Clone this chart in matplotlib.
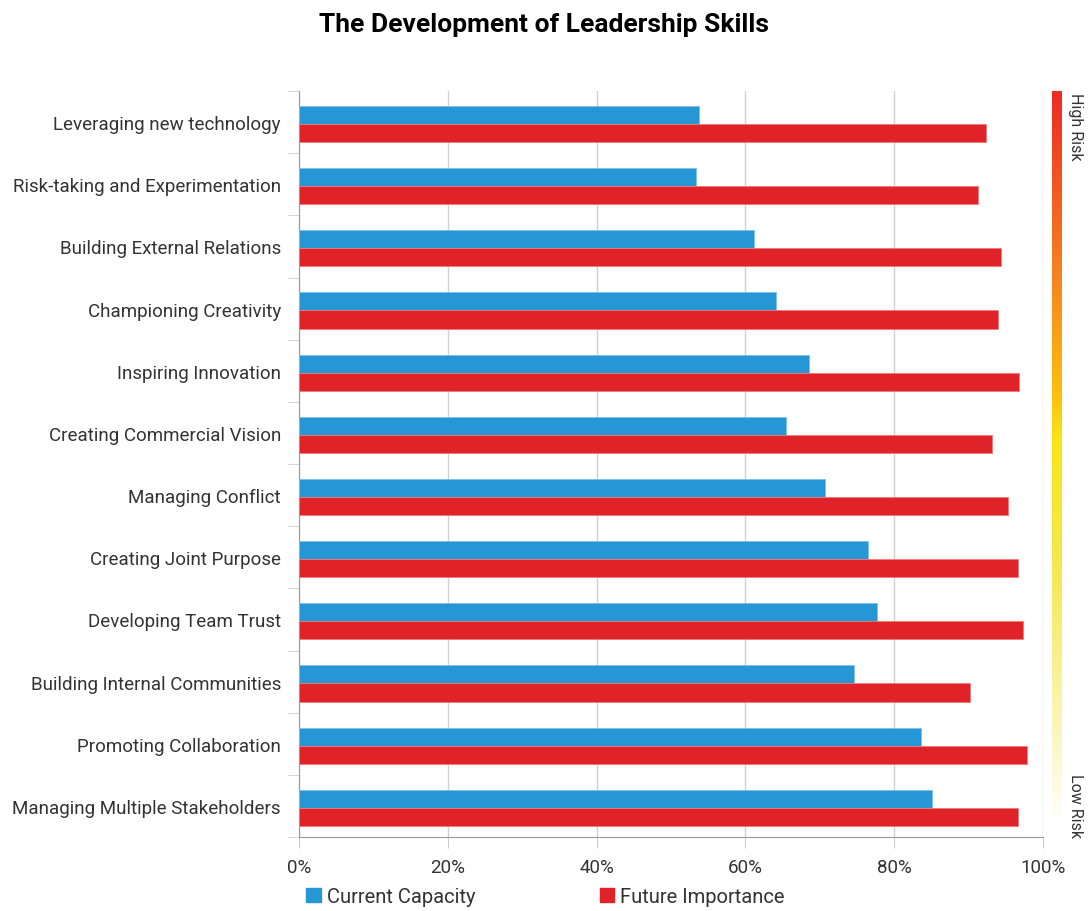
import numpy as np
import matplotlib
matplotlib.use("Agg")
from matplotlib import pyplot as plt
from matplotlib.colors import LinearSegmentedColormap
from matplotlib.patches import Patch

plt.rcParams['font.family'] = ['Roboto', 'DejaVu Sans']

skills = ['Leveraging new technology', 'Risk-taking and Experimentation',
          'Building External Relations', 'Championing Creativity',
          'Inspiring Innovation', 'Creating Commercial Vision',
          'Managing Conflict', 'Creating Joint Purpose',
          'Developing Team Trust', 'Building Internal Communities',
          'Promoting Collaboration', 'Managing Multiple Stakeholders']
current_capacity = [53.8, 53.4, 61.2, 64.1, 68.5, 65.5,
                    70.7, 76.5, 77.7, 74.6, 83.6, 85.1]
future_importance = [92.3, 91.3, 94.4, 94.0, 96.8, 93.1,
                     95.3, 96.6, 97.3, 90.2, 97.8, 96.6]
xticks = [0, 20, 40, 60, 80, 100]

blue = '#2796d4'
red = '#e02328'
grey = '#999999'
text_col = '#333333'

fig = plt.figure(figsize=(10.88, 9.12), dpi=100)
ax = fig.add_axes([0.2748, 0.0811, 0.9586 - 0.2748, 0.8180])

y = np.arange(len(skills))
h = 0.29
ax.barh(y - h / 2 + 0.03, current_capacity, height=h, color=blue,
        edgecolor='#7fc0e6', linewidth=0.6, zorder=3)
ax.barh(y + h / 2 + 0.03, future_importance, height=h, color=red,
        edgecolor='#ec7a7d', linewidth=0.6, zorder=3)

ax.set_xlim(0, 100)
ax.set_ylim(len(skills) - 0.5, -0.5)
ax.set_xticks(xticks)
ax.set_xticklabels(['{}%'.format(v) for v in xticks], fontsize=13.5, color=text_col)
ax.set_yticks(y)
ax.set_yticklabels(skills, fontsize=13.5, color=text_col)
ax.set_yticks(np.arange(len(skills) + 1) - 0.5, minor=True)
ax.tick_params(axis='y', which='major', length=0, pad=13)
ax.tick_params(axis='y', which='minor', length=8, color='#cccccc')
ax.tick_params(axis='x', length=8, color='#cccccc', pad=7)
ax.grid(axis='x', color='#d0d0d0', linewidth=1, zorder=0)

for s in ['top', 'right']:
    ax.spines[s].set_visible(False)
ax.spines['left'].set_color(grey)
ax.spines['bottom'].set_color(grey)

fig.text(0.5, 0.986, 'The Development of Leadership Skills', ha='center', va='top',
         fontsize=19, fontweight='bold', color='black')

# risk scale on the right
cmap = LinearSegmentedColormap.from_list(
    'risk', [(0.0, '#ee2a24'), (0.25, '#f58220'), (0.42, '#fdc10e'),
             (0.48, '#f8e616'), (0.65, '#f5e84f'), (1.0, '#fffef8')])
cax = fig.add_axes([1052 / 1088, 1 - 820 / 912, 10 / 1088, 728 / 912])
cax.imshow(np.linspace(0, 1, 256).reshape(-1, 1), aspect='auto', cmap=cmap)
cax.axis('off')
fig.text(1068 / 1088, 1 - 93 / 912, 'High Risk', rotation=270, ha='left', va='top',
         fontsize=11.5, color=text_col)
fig.text(1068 / 1088, 1 - 838 / 912, 'Low Risk', rotation=270, ha='left', va='bottom',
         fontsize=11.5, color=text_col)

handles = [Patch(color=blue, label='Current Capacity'),
           Patch(color=red, label='Future Importance')]
fig.legend(handles=handles, loc='lower left', bbox_to_anchor=(0.265, -0.014), ncol=2,
           frameon=False, fontsize=14.5, handlelength=0.7, handleheight=0.7,
           handletextpad=0.3, columnspacing=6.2, labelcolor=text_col)

fig.savefig('out.png', dpi=100)
